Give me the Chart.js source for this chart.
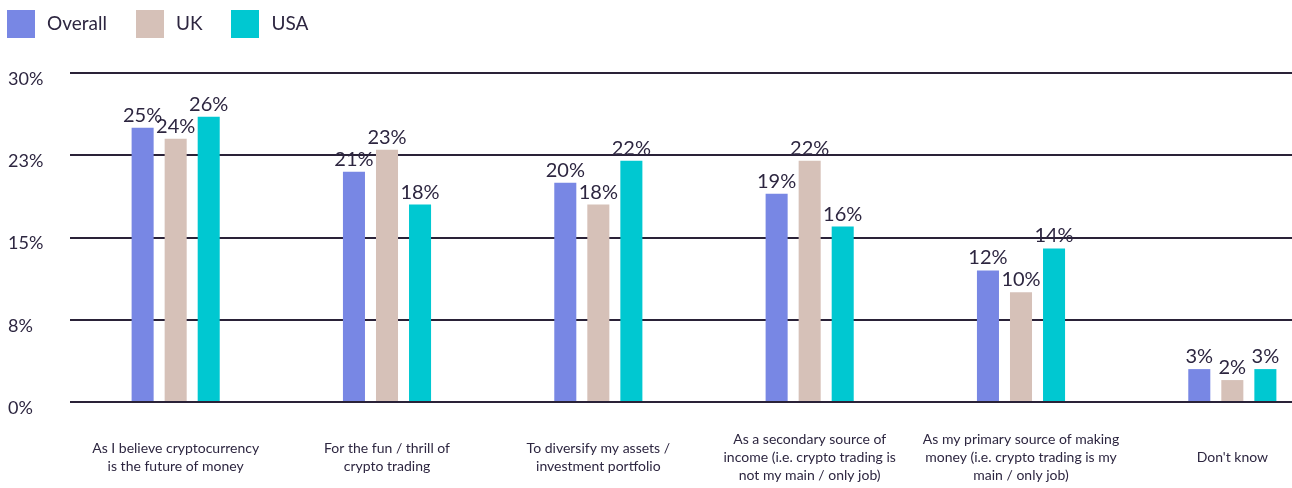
<!DOCTYPE html>
<html>
<head>
<meta charset="utf-8">
<script src="https://cdn.jsdelivr.net/npm/chart.js@4.4.1/dist/chart.umd.min.js"></script>
<style>
  html, body { margin: 0; padding: 0; background: #ffffff; width: 1292px; height: 488px; overflow: hidden; }
  #wrap { position: relative; width: 1338px; height: 488px; }
  #legend { position: absolute; left: 7px; top: 10px; display: flex; align-items: center; font-family: Lato, "Open Sans", sans-serif; font-size: 19px; color: #2d2640; z-index: 2; }
  .item { display: flex; align-items: center; margin-right: 29px; }
  .item span { position: relative; top: -2px; }
  .swatch { width: 28px; height: 28px; margin-right: 12px; }
</style>
</head>
<body>
<div id="wrap">
  <div id="legend"></div>
  <canvas id="chart" width="1338" height="488"></canvas>
</div>
<script>
// Survey answers: reasons for trading crypto
const categories = [
  ["As I believe cryptocurrency", "is the future of money"],
  ["For the fun / thrill of", "crypto trading"],
  ["To diversify my assets /", "investment portfolio"],
  ["As a secondary source of", "income (i.e. crypto trading is", "not my main / only job)"],
  ["As my primary source of making", "money (i.e. crypto trading is my", "main / only job)"],
  ["Don't know"]
];
const seriesNames = ["Overall", "UK", "USA"];
const overallValues = [25, 21, 20, 19, 12, 3];
const ukValues = [24, 23, 18, 22, 10, 2];
const usaValues = [26, 18, 22, 16, 14, 3];
const yTickValues = [0, 7.5, 15, 22.5, 30];
const yTickLabels = ["0%", "8%", "15%", "23%", "30%"];

const colors = ["#7887e4", "#d6c1b8", "#00c8d1"];
const textColor = "#2d2640";

// HTML legend
const legendEl = document.getElementById("legend");
seriesNames.forEach((name, i) => {
  const item = document.createElement("div");
  item.className = "item";
  const sw = document.createElement("div");
  sw.className = "swatch";
  sw.style.background = colors[i];
  const label = document.createElement("span");
  label.textContent = name;
  item.appendChild(sw);
  item.appendChild(label);
  legendEl.appendChild(item);
});

// value labels above each bar
const valueLabels = {
  id: "valueLabels",
  afterDatasetsDraw(chart) {
    const ctx = chart.ctx;
    ctx.save();
    ctx.font = "20px Lato, 'Open Sans', sans-serif";
    ctx.fillStyle = textColor;
    ctx.textAlign = "center";
    ctx.textBaseline = "alphabetic";
    chart.data.datasets.forEach((ds, di) => {
      const meta = chart.getDatasetMeta(di);
      meta.data.forEach((bar, i) => {
        ctx.fillText(ds.data[i] + "%", bar.x, bar.y - 6);
      });
    });
    ctx.restore();
  }
};

const seriesValues = [overallValues, ukValues, usaValues];

new Chart(document.getElementById("chart"), {
  type: "bar",
  data: {
    labels: categories,
    datasets: seriesNames.map((name, i) => ({
      label: name,
      data: seriesValues[i],
      backgroundColor: colors[i],
      borderWidth: 0,
      categoryPercentage: 0.469,
      barPercentage: 0.667
    }))
  },
  options: {
    responsive: false,
    animation: false,
    layout: { padding: { top: 73, left: 8, right: 0, bottom: 0 } },
    plugins: {
      legend: { display: false },
      tooltip: { enabled: false }
    },
    scales: {
      x: {
        grid: { display: false, drawTicks: false },
        border: { display: false },
        ticks: {
          color: textColor,
          font: { family: "'Liberation Sans Narrow', Lato, sans-serif", size: 14, lineHeight: 1.3 },
          maxRotation: 0,
          autoSkip: false,
          padding: 37,
          crossAlign: "center"
        },
        afterFit(scale) { scale.height = 86; }
      },
      y: {
        min: 0,
        max: 30,
        afterBuildTicks(scale) {
          scale.ticks = yTickValues.map(v => ({ value: v }));
        },
        grid: { color: "#2a2238", lineWidth: 2, drawTicks: false },
        border: { display: false },
        ticks: {
          color: textColor,
          font: { family: "Lato, 'Open Sans', sans-serif", size: 18 },
          crossAlign: "far",
          padding: 0,
          labelOffset: 6,
          callback: (v, i) => yTickLabels[i]
        },
        afterFit(scale) { scale.width = 62; }
      }
    }
  },
  plugins: [valueLabels]
});
</script>
</body>
</html>
